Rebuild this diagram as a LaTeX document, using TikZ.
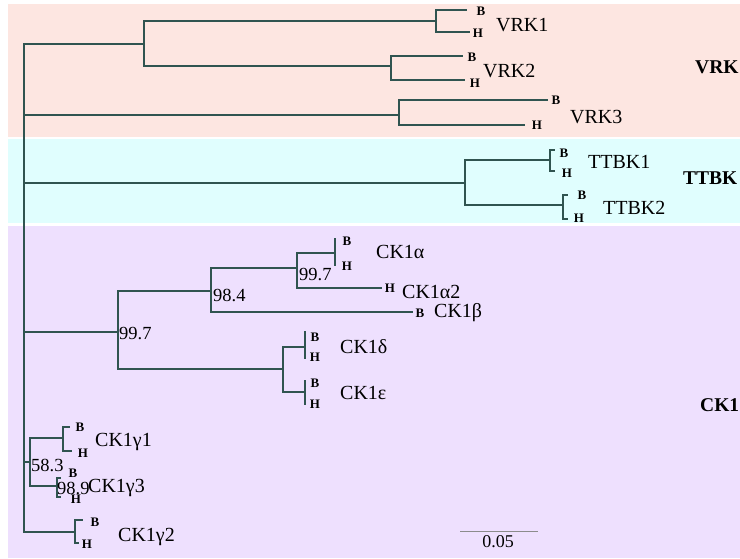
\documentclass[tikz,border=0pt]{standalone}
\usepackage{fontspec}
\setmainfont{Liberation Serif}
\definecolor{vrkbg}{RGB}{253,230,225}
\definecolor{ttbkbg}{RGB}{224,254,254}
\definecolor{ckbg}{RGB}{238,224,254}
\definecolor{branch}{RGB}{48,84,80}
\begin{document}
\begin{tikzpicture}[x=1pt,y=-1pt,
  br/.style={draw=branch,line width=2.8pt},
  taxon/.style={anchor=west,inner sep=0pt,font=\fontsize{20}{22}\selectfont},
  bh/.style={inner sep=0pt,font=\fontsize{13}{14}\bfseries\selectfont},
  boot/.style={anchor=west,inner sep=0pt,font=\fontsize{18.5}{20}\selectfont},
  grp/.style={anchor=west,inner sep=0pt,font=\fontsize{19.5}{21}\bfseries\selectfont}]
\useasboundingbox (0,0) rectangle (740,558);
% background bands
\fill[vrkbg] (8,4) rectangle (740,137);
\fill[ttbkbg] (8,139) rectangle (740,223);
\fill[ckbg] (8,226) rectangle (740,558);

% internal nodes
\coordinate (root) at (24,332);
\coordinate (vrk) at (144,44);
\coordinate (v1) at (436,21);
\coordinate (v2) at (391,66);
\coordinate (v3) at (399,115);
\coordinate (tt) at (465,183);
\coordinate (t1) at (550,160);
\coordinate (t2) at (563,205);
\coordinate (ck) at (118,332);
\coordinate (ab) at (211,291);
\coordinate (aa) at (297,268);
\coordinate (al) at (335,253);
\coordinate (de) at (283,369);
\coordinate (d) at (305,347);
\coordinate (e) at (305,392);
\coordinate (g13) at (30,462);
\coordinate (g1) at (63,438);
\coordinate (g3) at (57,486);
\coordinate (g2) at (75,532);
% leaves
\coordinate (v1B) at (467,10);  \coordinate (v1H) at (470,32);
\coordinate (v2B) at (463,56);  \coordinate (v2H) at (465,80);
\coordinate (v3B) at (548,100); \coordinate (v3H) at (525,125);
\coordinate (t1B) at (555,150); \coordinate (t1H) at (555,171);
\coordinate (t2B) at (568,195); \coordinate (t2H) at (568,219);
\coordinate (alB) at (336,239); \coordinate (alH) at (336,265);
\coordinate (a2H) at (382,288);
\coordinate (beB) at (413,312);
\coordinate (dB) at (306,332);  \coordinate (dH) at (306,358);
\coordinate (eB) at (306,381);  \coordinate (eH) at (306,404);
\coordinate (g1B) at (70,427);  \coordinate (g1H) at (72,451);
\coordinate (g3B) at (61,478);  \coordinate (g3H) at (61,497);
\coordinate (g2B) at (83,520);  \coordinate (g2H) at (79,543);

% branches
\foreach \p/\c in {root/vrk,root/v3,root/tt,root/ck,root/g13,root/g2,
  vrk/v1,vrk/v2,v1/v1B,v1/v1H,v2/v2B,v2/v2H,v3/v3B,v3/v3H,
  tt/t1,tt/t2,t1/t1B,t1/t1H,t2/t2B,t2/t2H,
  ck/ab,ck/de,ab/aa,ab/beB,aa/al,aa/a2H,al/alB,al/alH,
  de/d,de/e,d/dB,d/dH,e/eB,e/eH,
  g13/g1,g13/g3,g1/g1B,g1/g1H,g3/g3B,g3/g3H,g2/g2B,g2/g2H}
  \draw[br] (\p) |- (\c);

% B / H labels
\node[bh] (lv1B) at (481,11) {B};  \node[bh] (lv1H) at (478,33) {H};
\node[bh] (lv2B) at (472,57) {B};  \node[bh] (lv2H) at (475,83) {H};
\node[bh] (lv3B) at (556,100) {B}; \node[bh] (lv3H) at (537,125) {H};
\node[bh] (lt1B) at (564,153) {B}; \node[bh] (lt1H) at (567,173) {H};
\node[bh] (lt2B) at (582,195) {B}; \node[bh] (lt2H) at (579,218) {H};
\node[bh] (lalB) at (347,241) {B}; \node[bh] (lalH) at (347,266) {H};
\node[bh] (la2H) at (390,288) {H};
\node[bh] (lbeB) at (420,313) {B};
\node[bh] (ldB) at (315,337) {B};  \node[bh] (ldH) at (315,357) {H};
\node[bh] (leB) at (315,383) {B};  \node[bh] (leH) at (315,404) {H};
\node[bh] (lg1B) at (80,427) {B};  \node[bh] (lg1H) at (83,453) {H};
\node[bh] (lg3B) at (73,473) {B};  \node[bh] (lg3H) at (76,499) {H};
\node[bh] (lg2B) at (95,522) {B};  \node[bh] (lg2H) at (87,544) {H};

% taxon names
\node[taxon] (nv1) at (496,25) {VRK1};
\node[taxon] (nv2) at (483,71) {VRK2};
\node[taxon] (nv3) at (570,117) {VRK3};
\node[taxon] (nt1) at (588,162) {TTBK1};
\node[taxon] (nt2) at (603,208) {TTBK2};
\node[taxon] (nal) at (376,252) {CK1α};
\node[taxon] (na2) at (402,292) {CK1α2};
\node[taxon] (nbe) at (434,313) {CK1β};
\node[taxon] (nd) at (340,347) {CK1δ};
\node[taxon] (ne) at (340,393) {CK1ε};
\node[taxon] (ng1) at (95,442) {CK1γ1};
\node[taxon] (ng3) at (88,488) {CK1γ3};
\node[taxon] (ng2) at (118,537) {CK1γ2};

% bootstrap values
\node[boot] (bck) at (119,333) {99.7};
\node[boot] (bab) at (213,295) {98.4};
\node[boot] (baa) at (299,274) {99.7};
\node[boot] (bg13) at (31,465) {58.3};
\node[boot] (bg3) at (57,488) {98.9};

% group labels
\node[grp] (gvrk) at (695,67) {VRK};
\node[grp] (gtt) at (683,178) {TTBK};
\node[grp] (gck) at (700,405) {CK1};

% scale bar
\coordinate (sb1) at (460,531);
\coordinate (sb2) at (538,531);
\draw[draw=black!45,line width=0.9pt] (sb1) -- (sb2);
\node[inner sep=0pt,font=\fontsize{18}{20}\selectfont] (sbl) at (498,542) {0.05};
\end{tikzpicture}
\end{document}
